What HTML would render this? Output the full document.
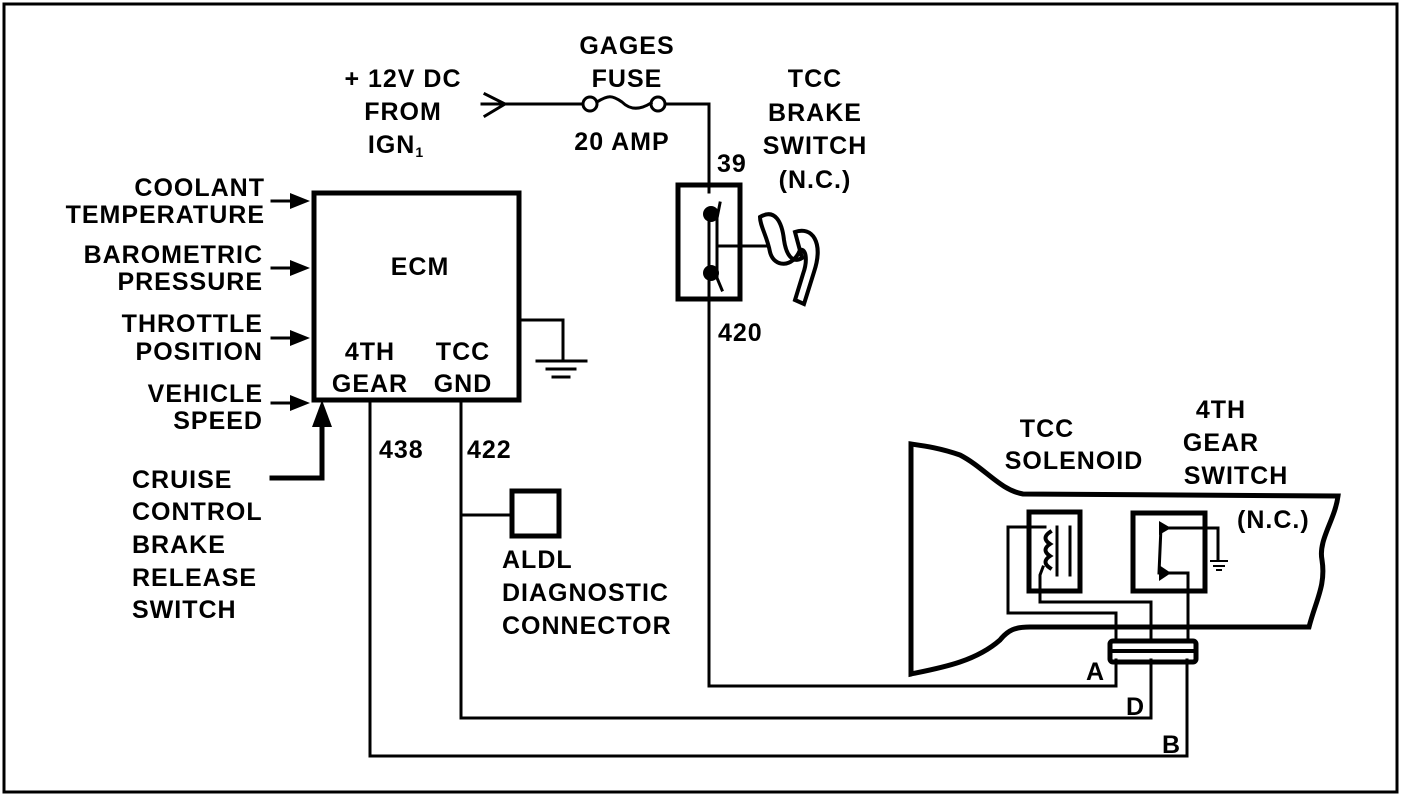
<!DOCTYPE html>
<html><head><style>html,body{margin:0;padding:0;background:#fff}svg{display:block}text{font-family:"Liberation Sans",sans-serif;font-weight:bold;font-size:25px;letter-spacing:1px;fill:#000}</style></head><body>
<svg width="1408" height="798" viewBox="0 0 1408 798" xmlns="http://www.w3.org/2000/svg">
<rect x="4" y="4" width="1393" height="788" fill="none" stroke="#000" stroke-width="3"/>
<g fill="none" stroke="#000" stroke-linecap="square">
<path d="M482 104 L582 104" stroke-width="3"/>
<path d="M485 94 L505 104 L485 116" stroke-width="3"/>
<circle cx="590" cy="104" r="7" stroke-width="3"/>
<circle cx="658" cy="104" r="7" stroke-width="3"/>
<path d="M597 102 C608 95 612 95 622 102 C630 110 640 110 651 103" stroke-width="3"/>
<path d="M665 104 L709 104 L709 192" stroke-width="3"/>
<rect x="678" y="185" width="62" height="114" stroke-width="5"/>
<path d="M709 215 L709 268 M709 280 L709 686 L1116 686 L1116 660" stroke-width="3"/>
<path d="M720 203 L717 218 L717 278 L722 290" stroke-width="3"/>
<path d="M717 246 L768 246" stroke-width="3"/>
<path d="M760 217 C775 208 782 222 784 240 C786 254 792 264 802 258 L795 232 C812 226 824 242 814 272 L804 304 L795 300 L803 274 C808 260 806 248 800 250 C793 268 774 268 770 252 C767 236 760 226 760 217Z" stroke-width="4"/>
<rect x="314" y="193" width="205" height="207" stroke-width="5"/>
<path d="M520 320 L563 320 L563 358" stroke-width="3"/>
<path d="M537 361 L586 361 M547 369 L575 369 M553 377 L569 377" stroke-width="3"/>
<path d="M272 201 L305 201 M272 268 L305 268 M272 338 L305 338 M272 403 L305 403" stroke-width="3"/>
<path d="M322 478 L272 478 M322 478 L322 418" stroke-width="5"/>
<path d="M370 401 L370 756 L1187 756 L1187 660" stroke-width="3"/>
<path d="M461 401 L461 718 L1151 718 L1151 660" stroke-width="3"/>
<path d="M461 515 L512 515" stroke-width="3"/>
<rect x="512" y="491" width="47" height="45" stroke-width="5"/>
<path d="M1338 496 L1023 494 C1000 490 985 468 960 455 C940 448 925 446 911 444 L911 674 C940 668 975 662 1000 640 C1008 630 1015 627 1030 627 L1309 627 C1316 600 1326 585 1322 560 C1318 540 1335 520 1338 496Z" stroke-width="5"/>
<rect x="1029" y="512" width="51" height="79" stroke-width="5"/>
<rect x="1133" y="513" width="72" height="78" stroke-width="5"/>
<rect x="1110" y="641" width="86" height="21" rx="3" stroke-width="5"/>
<path d="M1112 651 L1194 651" stroke-width="4"/>
<path d="M1045 527 L1008 527 L1008 613 L1116 613 L1116 641" stroke-width="3"/>
<path d="M1043 567 L1040 575 L1040 602 L1151 602 L1151 641" stroke-width="3"/>
<path d="M1050 532 C1044 536 1044 540 1050 544 C1044 548 1044 552 1050 556 C1044 560 1044 564 1050 568" stroke-width="4"/>
<path d="M1057 527 L1057 575 M1070 527 L1070 575" stroke-width="3"/>
<path d="M1162 528 L1218 528 L1218 560 M1161 527 L1159 573 M1160 573 L1188 573 L1188 641" stroke-width="3"/>
<path d="M1211 561 L1227 561 M1214 566 L1224 566 M1217 570 L1221 570" stroke-width="2"/>
</g>
<g fill="#000">
<path d="M290 193 L310 201 L290 209Z M290 260 L310 268 L290 276Z M290 330 L310 338 L290 346Z M290 395 L310 403 L290 411Z"/>
<path d="M312 427 L322 400 L332 427Z"/>
<circle cx="711" cy="214" r="8"/><circle cx="711" cy="273" r="8"/>
<path d="M1159 521 L1171 528 L1159 535Z M1159 565 L1171 573 L1159 581Z"/>
</g>
<text x="627" y="54" text-anchor="middle">GAGES</text>
<text x="627" y="87" text-anchor="middle">FUSE</text>
<text x="622" y="150" text-anchor="middle">20 AMP</text>
<text x="403" y="87" text-anchor="middle">+ 12V DC</text>
<text x="403" y="120" text-anchor="middle">FROM</text>
<text x="396" y="153" text-anchor="middle">IGN<tspan font-size="14" dy="4">1</tspan></text>
<text x="815" y="87" text-anchor="middle">TCC</text>
<text x="815" y="121" text-anchor="middle">BRAKE</text>
<text x="815" y="154" text-anchor="middle">SWITCH</text>
<text x="815" y="188" text-anchor="middle">(N.C.)</text>
<text x="717" y="172">39</text>
<text x="718" y="341">420</text>
<g text-anchor="end">
<text x="265" y="196">COOLANT</text><text x="265" y="223">TEMPERATURE</text>
<text x="263" y="263">BAROMETRIC</text><text x="263" y="290">PRESSURE</text>
<text x="263" y="332">THROTTLE</text><text x="263" y="360">POSITION</text>
<text x="263" y="402">VEHICLE</text><text x="263" y="429">SPEED</text>
</g>
<text x="132" y="488">CRUISE</text><text x="132" y="520">CONTROL</text><text x="132" y="553">BRAKE</text><text x="132" y="586">RELEASE</text><text x="132" y="618">SWITCH</text>
<text x="420" y="275" text-anchor="middle">ECM</text>
<text x="370" y="360" text-anchor="middle">4TH</text><text x="370" y="392" text-anchor="middle">GEAR</text>
<text x="463" y="360" text-anchor="middle">TCC</text><text x="463" y="392" text-anchor="middle">GND</text>
<text x="379" y="458">438</text><text x="467" y="458">422</text>
<text x="502" y="568">ALDL</text><text x="502" y="601">DIAGNOSTIC</text><text x="502" y="634">CONNECTOR</text>
<text x="1047" y="437" text-anchor="middle">TCC</text><text x="1074" y="469" text-anchor="middle">SOLENOID</text>
<text x="1221" y="418" text-anchor="middle">4TH</text><text x="1221" y="451" text-anchor="middle">GEAR</text><text x="1236" y="484" text-anchor="middle">SWITCH</text>
<text x="1237" y="528">(N.C.)</text>
<text x="1086" y="680">A</text><text x="1126" y="715">D</text><text x="1162" y="753">B</text>
</svg>
</body></html>
